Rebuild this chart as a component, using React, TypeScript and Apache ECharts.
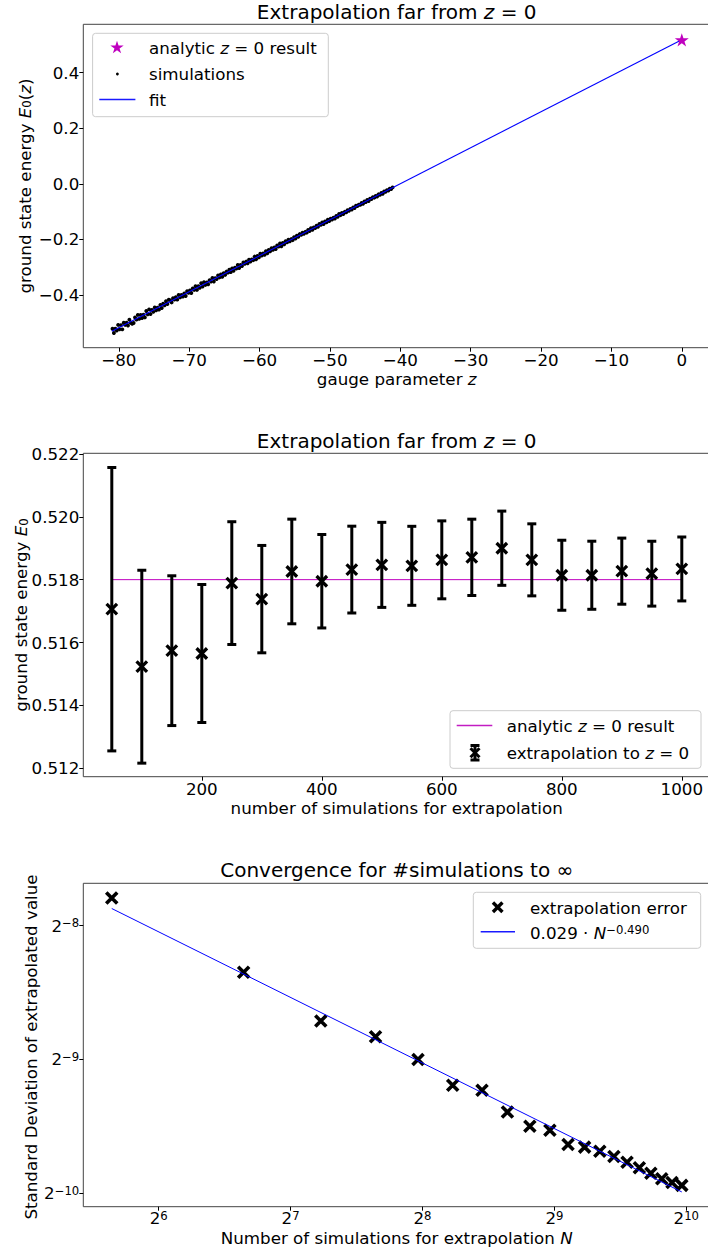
import React, { useEffect, useRef } from 'react';
import * as echarts from 'echarts';

const FONT = 'DejaVu Sans';

// ---------- Panel 1: extrapolation far from z = 0 ----------
const simulations: [number, number][] = [
  [-80.9, -0.522], [-80.7, -0.537], [-80.5, -0.522], [-80.3, -0.528], [-80.1, -0.508],
  [-79.9, -0.524], [-79.7, -0.509], [-79.5, -0.524], [-79.3, -0.500], [-79.1, -0.508],
  [-78.9, -0.500], [-78.7, -0.510], [-78.5, -0.489], [-78.3, -0.500], [-78.1, -0.504],
  [-77.9, -0.501], [-77.7, -0.481], [-77.5, -0.489], [-77.3, -0.472], [-77.1, -0.486],
  [-76.9, -0.472], [-76.7, -0.483], [-76.5, -0.471], [-76.3, -0.481], [-76.1, -0.458],
  [-75.9, -0.470], [-75.7, -0.452], [-75.5, -0.469], [-75.3, -0.454], [-75.1, -0.461],
  [-74.9, -0.445], [-74.7, -0.455], [-74.5, -0.446], [-74.3, -0.453], [-74.1, -0.436],
  [-73.9, -0.447], [-73.7, -0.432], [-73.5, -0.437], [-73.3, -0.423], [-73.1, -0.433],
  [-72.9, -0.417], [-72.7, -0.420], [-72.5, -0.427], [-72.3, -0.412], [-72.1, -0.417],
  [-71.9, -0.408], [-71.7, -0.417], [-71.5, -0.400], [-71.3, -0.409], [-71.1, -0.400],
  [-70.9, -0.406], [-70.7, -0.395], [-70.5, -0.404], [-70.3, -0.387], [-70.1, -0.392],
  [-69.9, -0.384], [-69.7, -0.393], [-69.5, -0.377], [-69.3, -0.382], [-69.1, -0.369],
  [-68.9, -0.382], [-68.7, -0.369], [-68.5, -0.374], [-68.3, -0.358], [-68.1, -0.370],
  [-67.9, -0.354], [-67.7, -0.364], [-67.5, -0.355], [-67.3, -0.362], [-67.1, -0.347],
  [-66.9, -0.352], [-66.7, -0.339], [-66.5, -0.352], [-66.3, -0.340], [-66.1, -0.343],
  [-65.9, -0.330], [-65.7, -0.337], [-65.5, -0.326], [-65.3, -0.335], [-65.1, -0.322],
  [-64.9, -0.328], [-64.7, -0.316], [-64.5, -0.320], [-64.3, -0.309], [-64.1, -0.318],
  [-63.9, -0.305], [-63.7, -0.313], [-63.5, -0.302], [-63.3, -0.305], [-63.1, -0.292],
  [-62.9, -0.303], [-62.7, -0.292], [-62.5, -0.296], [-62.3, -0.283], [-62.1, -0.288],
  [-61.9, -0.280], [-61.7, -0.286], [-61.5, -0.273], [-61.3, -0.280], [-61.1, -0.272],
  [-60.9, -0.275], [-60.7, -0.262], [-60.5, -0.272], [-60.3, -0.260], [-60.1, -0.265],
  [-59.9, -0.252], [-59.7, -0.258], [-59.5, -0.251], [-59.3, -0.256], [-59.1, -0.243],
  [-58.9, -0.250], [-58.7, -0.238], [-58.5, -0.243], [-58.3, -0.232], [-58.1, -0.238],
  [-57.9, -0.229], [-57.7, -0.235], [-57.5, -0.222], [-57.3, -0.226], [-57.1, -0.215],
  [-56.9, -0.225], [-56.7, -0.213], [-56.5, -0.218], [-56.3, -0.207], [-56.1, -0.211],
  [-55.9, -0.201], [-55.7, -0.207], [-55.5, -0.199], [-55.3, -0.203], [-55.1, -0.192],
  [-54.9, -0.197], [-54.7, -0.187], [-54.5, -0.191], [-54.3, -0.181], [-54.1, -0.184],
  [-53.9, -0.176], [-53.7, -0.180], [-53.5, -0.173], [-53.3, -0.176], [-53.1, -0.166],
  [-52.9, -0.170], [-52.7, -0.160], [-52.5, -0.166], [-52.3, -0.157], [-52.1, -0.159],
  [-51.9, -0.151], [-51.7, -0.155], [-51.5, -0.145], [-51.3, -0.148], [-51.1, -0.139],
  [-50.9, -0.145], [-50.7, -0.136], [-50.5, -0.139], [-50.3, -0.129], [-50.1, -0.134],
  [-49.9, -0.126], [-49.7, -0.129], [-49.5, -0.122], [-49.3, -0.125], [-49.1, -0.116],
  [-48.9, -0.119], [-48.7, -0.109], [-48.5, -0.113], [-48.3, -0.105], [-48.1, -0.109],
  [-47.9, -0.101], [-47.7, -0.103], [-47.5, -0.095], [-47.3, -0.097], [-47.1, -0.091],
  [-46.9, -0.093], [-46.7, -0.085], [-46.5, -0.087], [-46.3, -0.079], [-46.1, -0.080],
  [-45.9, -0.075], [-45.7, -0.076], [-45.5, -0.069], [-45.3, -0.072], [-45.1, -0.064],
  [-44.9, -0.066], [-44.7, -0.058], [-44.5, -0.062], [-44.3, -0.054], [-44.1, -0.055],
  [-43.9, -0.048], [-43.7, -0.050], [-43.5, -0.044], [-43.3, -0.046], [-43.1, -0.038],
  [-42.9, -0.040], [-42.7, -0.033], [-42.5, -0.036], [-42.3, -0.028], [-42.1, -0.029],
  [-41.9, -0.023], [-41.7, -0.024], [-41.5, -0.018], [-41.3, -0.019], [-41.1, -0.013],
];
const analyticZ = 0;
const analyticE0 = 0.518;
const fitZ = [-81, 0];
const fitE0 = [-0.531, 0.518];
const gaugeTicks = [-80, -70, -60, -50, -40, -30, -20, -10, 0];
const energyTicks = [-0.4, -0.2, 0.0, 0.2, 0.4];

// ---------- Panel 2: extrapolated E0 vs number of simulations ----------
const nSimulations = [50, 100, 150, 200, 250, 300, 350, 400, 450, 500, 550, 600, 650, 700, 750, 800, 850, 900, 950, 1000];
const extrapolatedE0 = [0.51706, 0.51523, 0.51574, 0.51565, 0.51789, 0.51738, 0.51826, 0.51795, 0.51832, 0.51847,
  0.51844, 0.51863, 0.51871, 0.51900, 0.51863, 0.51814, 0.51814, 0.51827, 0.51819, 0.51834];
const extrapolationStd = [0.004509, 0.003069, 0.002383, 0.002196, 0.001953, 0.001708, 0.001665, 0.001487, 0.001381, 0.001353,
  0.001257, 0.001240, 0.001214, 0.001181, 0.001146, 0.001114, 0.001083, 0.001052, 0.001032, 0.001017];
const analyticLineN = [50, 1000];
const simCountTicks = [200, 400, 600, 800, 1000];
const e0Ticks = [0.512, 0.514, 0.516, 0.518, 0.520, 0.522];

// ---------- Panel 3: convergence ----------
const powerFitN = [50, 1000];
const powerFitStd = [0.00427, 0.000983];

// layout
const GL = 83.3;
const GW = 627;
const GH = 323.4;
const TOPS = [24.3, 453.3, 883.3];
const CX = 396.7;

const STAR_PTS: [number, number][] = [
  [0, -7], [1.57, -2.16], [6.66, -2.16], [2.54, 0.83], [4.11, 5.66],
  [0, 2.67], [-4.11, 5.66], [-2.54, 0.83], [-6.66, -2.16], [-1.57, -2.16],
];
const STAR_PATH = 'path://' + STAR_PTS.map((p, i) => (i ? 'L' : 'M') + p[0] + ',' + p[1]).join('') + 'Z';
const X_PATH = 'path://M0,0L10,10M10,0L0,10';

const rich = {
  n: { fontFamily: FONT, fontSize: 16.7, color: '#000', lineHeight: 17, verticalAlign: 'middle' },
  i: { fontFamily: FONT, fontSize: 16.7, fontStyle: 'italic', color: '#000', lineHeight: 17, verticalAlign: 'middle' },
  sub: { fontFamily: FONT, fontSize: 11.7, color: '#000', lineHeight: 8, verticalAlign: 'bottom' },
  sup: { fontFamily: FONT, fontSize: 11.7, color: '#000', lineHeight: 8, verticalAlign: 'top' },
  tn: { fontFamily: FONT, fontSize: 20, color: '#000', lineHeight: 22, verticalAlign: 'middle' },
  ti: { fontFamily: FONT, fontSize: 20, fontStyle: 'italic', color: '#000', lineHeight: 22, verticalAlign: 'middle' },
};

function txt(x: number, y: number, text: string, align = 'left', rotation = 0) {
  return {
    type: 'text', x, y, rotation, z: 100,
    style: { text, rich, align, verticalAlign: 'middle', textAlign: align, textVerticalAlign: 'middle', fill: '#000', font: `16.7px "${FONT}"` },
  };
}
function xMark(cx: number, cy: number, s: number, w: number) {
  const h = s / 2;
  return [
    { type: 'line', z: 100, shape: { x1: cx - h, y1: cy - h, x2: cx + h, y2: cy + h }, style: { stroke: '#000', lineWidth: w } },
    { type: 'line', z: 100, shape: { x1: cx + h, y1: cy - h, x2: cx - h, y2: cy + h }, style: { stroke: '#000', lineWidth: w } },
  ];
}
function legendBox(x: number, y: number, w: number, h: number) {
  return { type: 'rect', z: 99, shape: { x, y, width: w, height: h, r: 3 }, style: { fill: 'rgba(255,255,255,0.8)', stroke: '#cccccc', lineWidth: 1 } };
}

const labelBase = { color: '#000', fontFamily: FONT, fontSize: 16.7, margin: 4 };
const tickBase = { show: true, length: 4, lineStyle: { color: '#000', width: 1 } };
const minusFmt = (d: number) => (v: number) => v.toFixed(d).replace('-', '\u2212');
const pow2Rich = {
  b: { fontFamily: FONT, fontSize: 16.7, color: '#000', lineHeight: 17, verticalAlign: 'middle' },
  s: { fontFamily: FONT, fontSize: 11.7, color: '#000', lineHeight: 8, verticalAlign: 'top' },
};
const pow2Fmt = (v: number) => {
  const e = Math.round(Math.log2(v));
  return `{b|2}{s|${e < 0 ? '\u2212' + -e : e}}`;
};

function renderErrorBar(params: any, api: any) {
  const n = api.value(0);
  const lo = api.coord([n, api.value(1)]);
  const hi = api.coord([n, api.value(2)]);
  const cap = 4.5;
  const st = { stroke: '#000', lineWidth: 3 };
  return {
    type: 'group',
    children: [
      { type: 'line', shape: { x1: lo[0], y1: lo[1], x2: hi[0], y2: hi[1] }, style: st },
      { type: 'line', shape: { x1: lo[0] - cap, y1: lo[1], x2: lo[0] + cap, y2: lo[1] }, style: st },
      { type: 'line', shape: { x1: hi[0] - cap, y1: hi[1], x2: hi[0] + cap, y2: hi[1] }, style: st },
    ],
  };
}

function buildOption() {
  const grids = TOPS.map((t) => ({
    left: GL, top: t, width: GW, height: GH, show: true, borderColor: '#444', borderWidth: 1,
    backgroundColor: 'transparent', containLabel: false, outerBoundsMode: 'none',
  }));

  const star = STAR_PTS;
  const graphicEls: any[] = [
    // titles
    { type: 'text', x: CX, y: 12.3, z: 100, style: { text: '{tn|Extrapolation far from }{ti|z}{tn| = 0}', rich, align: 'center', verticalAlign: 'middle', textAlign: 'center', textVerticalAlign: 'middle' } },
    { type: 'text', x: CX, y: 441.4, z: 100, style: { text: '{tn|Extrapolation far from }{ti|z}{tn| = 0}', rich, align: 'center', verticalAlign: 'middle', textAlign: 'center', textVerticalAlign: 'middle' } },
    { type: 'text', x: CX, y: 870.4, z: 100, style: { text: '{tn|Convergence for #simulations to \u221e}', rich, align: 'center', verticalAlign: 'middle', textAlign: 'center', textVerticalAlign: 'middle' } },
    // axis names
    txt(CX, 378.6, '{n|gauge parameter }{i|z}', 'center'),
    txt(24.7, 186, '{n|ground state energy }{i|E}{sub|0}{n|(}{i|z}{n|)}', 'center', Math.PI / 2),
    txt(CX, 808.2, '{n|number of simulations for extrapolation}', 'center'),
    txt(21, 615, '{n|ground state energy }{i|E}{sub|0}', 'center', Math.PI / 2),
    txt(CX, 1238.2, '{n|Number of simulations for extrapolation }{i|N}', 'center'),
    txt(30.9, 1047, '{n|Standard Deviation of extrapolated value}', 'center', Math.PI / 2),
    // legend 1
    legendBox(92.6, 33.3, 235.7, 83.4),
    { type: 'polygon', z: 100, shape: { points: star.map((p) => [117 + p[0], 47.7 + p[1]]) }, style: { fill: '#bf00bf' } },
    { type: 'circle', z: 100, shape: { cx: 117.4, cy: 74, r: 1.4 }, style: { fill: '#000' } },
    { type: 'line', z: 100, shape: { x1: 99.3, y1: 99.5, x2: 135.4, y2: 99.5 }, style: { stroke: '#1a1aff', lineWidth: 1.5 } },
    txt(149, 48.2, '{n|analytic }{i|z}{n| = 0 result}'),
    txt(149, 74.2, '{n|simulations}'),
    txt(149, 100.2, '{n|fit}'),
    // legend 2
    legendBox(450, 710.7, 251, 57.6),
    { type: 'line', z: 100, shape: { x1: 456.7, y1: 725.5, x2: 492.3, y2: 725.5 }, style: { stroke: '#c21cc2', lineWidth: 1.5 } },
    { type: 'line', z: 100, shape: { x1: 475, y1: 745.5, x2: 475, y2: 760 }, style: { stroke: '#000', lineWidth: 3 } },
    { type: 'line', z: 100, shape: { x1: 470.5, y1: 745.5, x2: 479.5, y2: 745.5 }, style: { stroke: '#000', lineWidth: 3 } },
    { type: 'line', z: 100, shape: { x1: 470.5, y1: 760, x2: 479.5, y2: 760 }, style: { stroke: '#000', lineWidth: 3 } },
    ...xMark(475, 752.7, 9, 3),
    txt(506.7, 725.9, '{n|analytic }{i|z}{n| = 0 result}'),
    txt(506.7, 752.5, '{n|extrapolation to }{i|z}{n| = 0}'),
    // legend 3
    legendBox(473.3, 892.3, 227.4, 56),
    ...xMark(497.7, 907.3, 9.5, 3.4),
    { type: 'line', z: 100, shape: { x1: 480.7, y1: 931.7, x2: 515, y2: 931.7 }, style: { stroke: '#1a1aff', lineWidth: 1.5 } },
    txt(530, 907.5, '{n|extrapolation error}'),
    txt(530, 932.5, '{n|0.029 \u00b7 }{i|N}{sup|\u22120.490}'),
  ];

  return {
    animation: false,
    backgroundColor: '#fff',
    textStyle: { fontFamily: FONT },
    grid: grids,
    xAxis: [
      {
        gridIndex: 0, type: 'value', min: -85.05, max: 4.05,
        splitLine: { show: false }, axisLine: { show: false, onZero: false },
        axisTick: { ...tickBase, customValues: gaugeTicks },
        axisLabel: { ...labelBase, customValues: gaugeTicks, formatter: (v: number) => String(v).replace('-', '\u2212') },
      },
      {
        gridIndex: 1, type: 'value', min: 2.5, max: 1047.5,
        splitLine: { show: false }, axisLine: { show: false, onZero: false },
        axisTick: { ...tickBase, customValues: simCountTicks },
        axisLabel: { ...labelBase, customValues: simCountTicks, formatter: (v: number) => String(v) },
      },
      {
        gridIndex: 2, type: 'log', logBase: 2, min: 43.06, max: 1161.6,
        splitLine: { show: false }, minorTick: { show: false }, axisLine: { show: false, onZero: false },
        axisTick: { ...tickBase },
        axisLabel: { ...labelBase, margin: 3, showMinLabel: false, showMaxLabel: false, formatter: pow2Fmt, rich: pow2Rich },
      },
    ],
    yAxis: [
      {
        gridIndex: 0, type: 'value', min: -0.59, max: 0.574,
        splitLine: { show: false }, axisLine: { show: false, onZero: false },
        axisTick: { ...tickBase, customValues: energyTicks },
        axisLabel: { ...labelBase, customValues: energyTicks, formatter: minusFmt(1) },
      },
      {
        gridIndex: 1, type: 'value', min: 0.51173, max: 0.52202,
        splitLine: { show: false }, axisLine: { show: false, onZero: false },
        axisTick: { ...tickBase, customValues: e0Ticks },
        axisLabel: { ...labelBase, customValues: e0Ticks, formatter: minusFmt(3) },
      },
      {
        gridIndex: 2, type: 'log', logBase: 2, min: 0.0009106, max: 0.004866,
        splitLine: { show: false }, minorTick: { show: false }, axisLine: { show: false, onZero: false },
        axisTick: { ...tickBase },
        axisLabel: { ...labelBase, showMinLabel: false, showMaxLabel: false, formatter: pow2Fmt, rich: pow2Rich },
      },
    ],
    series: [
      // panel 1
      {
        name: 'simulations', type: 'scatter', xAxisIndex: 0, yAxisIndex: 0, data: simulations,
        symbol: 'circle', symbolSize: 3.9, itemStyle: { color: '#000', opacity: 1 }, z: 2,
      },
      {
        name: 'fit', type: 'line', xAxisIndex: 0, yAxisIndex: 0,
        data: fitZ.map((z, i) => [z, fitE0[i]]), symbol: 'none', lineStyle: { color: '#0000ff', width: 1.1 }, z: 3,
      },
      {
        name: 'analytic z = 0 result', type: 'scatter', xAxisIndex: 0, yAxisIndex: 0,
        data: [[analyticZ, analyticE0]], symbol: STAR_PATH, symbolKeepAspect: true, symbolSize: 14,
        itemStyle: { color: '#bf00bf', opacity: 1 }, z: 4,
      },
      // panel 2
      {
        name: 'analytic z = 0 result (line)', type: 'line', xAxisIndex: 1, yAxisIndex: 1,
        data: analyticLineN.map((n) => [n, analyticE0]), symbol: 'none', lineStyle: { color: '#bf00bf', width: 1 }, z: 2,
      },
      {
        name: 'extrapolation to z = 0 (error)', type: 'custom', xAxisIndex: 1, yAxisIndex: 1,
        data: nSimulations.map((n, i) => [n, extrapolatedE0[i] - extrapolationStd[i], extrapolatedE0[i] + extrapolationStd[i]]),
        encode: { x: 0, y: [1, 2] }, renderItem: renderErrorBar, z: 3,
      },
      {
        name: 'extrapolation to z = 0', type: 'scatter', xAxisIndex: 1, yAxisIndex: 1,
        data: nSimulations.map((n, i) => [n, extrapolatedE0[i]]),
        symbol: X_PATH, symbolSize: 10.5, itemStyle: { color: 'transparent', borderColor: '#000', borderWidth: 3.3, opacity: 1 }, z: 4,
      },
      // panel 3
      {
        name: 'extrapolation error', type: 'scatter', xAxisIndex: 2, yAxisIndex: 2,
        data: nSimulations.map((n, i) => [n, extrapolationStd[i]]),
        symbol: X_PATH, symbolSize: 11, itemStyle: { color: 'transparent', borderColor: '#000', borderWidth: 3.6, opacity: 1 }, z: 3,
      },
      {
        name: '0.029 N^-0.490', type: 'line', xAxisIndex: 2, yAxisIndex: 2,
        data: powerFitN.map((n, i) => [n, powerFitStd[i]]), symbol: 'none', lineStyle: { color: '#0000ff', width: 1 }, z: 4,
      },
    ],
    graphic: { elements: graphicEls },
  };
}

export default function App() {
  const ref = useRef<HTMLDivElement>(null);
  useEffect(() => {
    document.body.style.margin = '0';
    if (!ref.current) return;
    const chart = echarts.init(ref.current, undefined, { renderer: 'svg', width: 708, height: 1255 });
    chart.setOption(buildOption() as any);
    return () => chart.dispose();
  }, []);
  return <div ref={ref} style={{ position: 'absolute', left: 0, top: 0, width: 708, height: 1255, background: '#fff' }} />;
}
